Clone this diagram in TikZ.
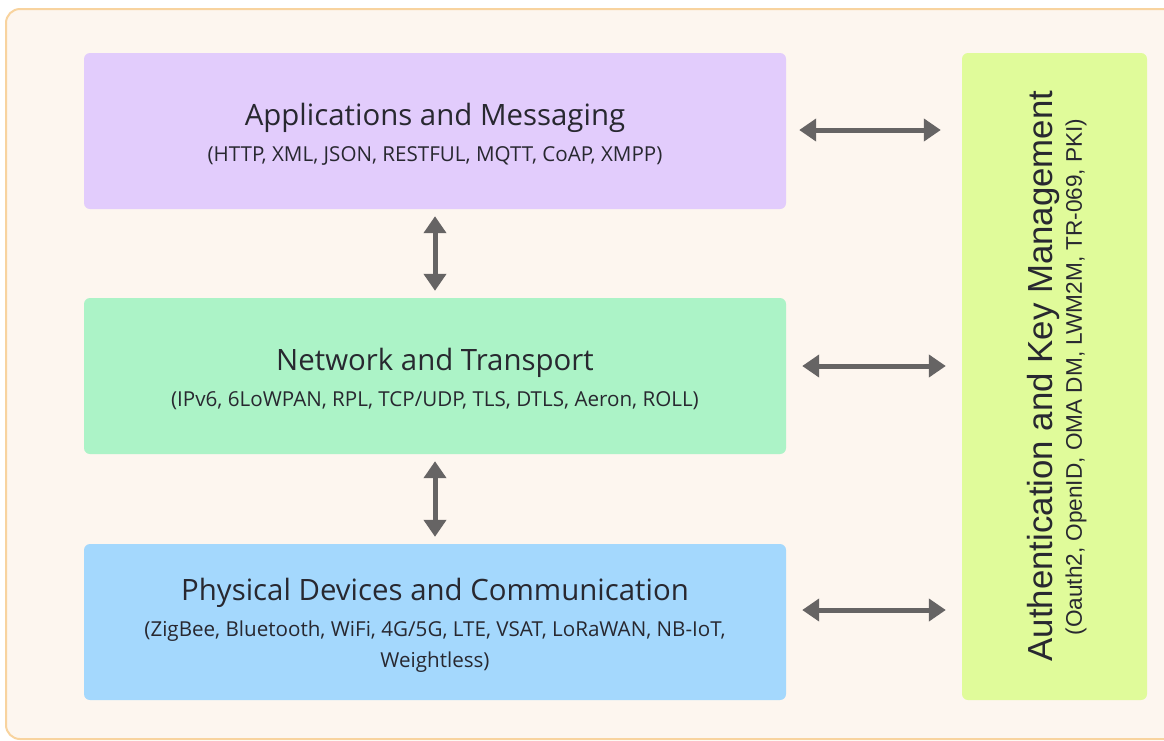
\documentclass[tikz,border=0pt]{standalone}
\usepackage{fontspec}
\setmainfont{Open Sans}
\newfontfamily\arialfont{Liberation Sans}
\usetikzlibrary{arrows.meta}
\definecolor{framefill}{RGB}{253,246,239}
\definecolor{framedraw}{RGB}{248,211,158}
\definecolor{appfill}{RGB}{226,204,252}
\definecolor{netfill}{RGB}{172,243,199}
\definecolor{phyfill}{RGB}{164,216,253}
\definecolor{authfill}{RGB}{224,251,154}
\definecolor{txt}{RGB}{40,40,48}
\definecolor{arrowgray}{RGB}{102,100,100}
\tikzset{
  layer/.style={draw=none, rounded corners=6pt, minimum width=702pt, minimum height=156pt, inner sep=0pt},
  arr/.style={draw=arrowgray, line width=5pt, {Triangle[width=22pt,length=17pt]}-{Triangle[width=22pt,length=17pt]}},
  ttl/.style={text=txt, font=\fontsize{29.4}{34}\selectfont, inner sep=0pt},
  sub/.style={text=txt, font=\fontsize{20.6}{31}\selectfont, inner sep=0pt, align=center},
}
\begin{document}
\begin{tikzpicture}[x=1pt,y=-1pt]
\useasboundingbox (0,0) rectangle (1164,740);
\clip (0,0) rectangle (1164,740);
\fill[framefill, rounded corners=14pt] (1180,9) -- (6,9) -- (6,739) -- (1180,739) -- cycle;
\draw[framedraw, line width=2pt, rounded corners=14pt] (1180,9) -- (6,9) -- (6,739) -- (1180,739);
% layers
\node[layer, fill=appfill] (app) at (435,131) {};
\node[layer, fill=netfill] (net) at (435,376) {};
\node[layer, fill=phyfill] (phy) at (435,622) {};
\node[draw=none, fill=authfill, rounded corners=6pt, minimum width=185pt, minimum height=647pt, inner sep=0pt] (auth) at (1054.5,376.5) {};
% texts
\node[ttl] (appt) at (435,118) {Applications and Messaging};
\node[sub] (apps) at (435,156) {(HTTP, XML, JSON, RESTFUL, MQTT, CoAP, XMPP)};
\node[ttl] (nett) at (435,363) {Network and Transport};
\node[sub] (nets) at (435,401) {(IPv6, 6LoWPAN, RPL, TCP/UDP, TLS, DTLS, Aeron, ROLL)};
\node[ttl] (phyt) at (435,593) {Physical Devices and Communication};
\node[sub] (phys) at (435,647) {(ZigBee, Bluetooth, WiFi, 4G/5G, LTE, VSAT, LoRaWAN, NB-IoT,\\Weightless)};
\node[text=txt, font=\arialfont\fontsize{34.8}{40}\selectfont, inner sep=0pt, rotate=90] (autht) at (1043,376) {Authentication and Key Management};
\node[text=txt, font=\arialfont\fontsize{22.6}{26}\selectfont, inner sep=0pt, rotate=90] (auths) at (1076,377) {(Oauth2, OpenID, OMA DM, LWM2M, TR-069, PKI)};
% arrows
\draw[arr] ([xshift=13pt]app.east |- 0,130) -- ([xshift=-21pt]auth.west |- 0,130);
\draw[arr] ([xshift=16pt]net.east |- 0,366) -- ([xshift=-16pt]auth.west |- 0,366);
\draw[arr] ([xshift=16pt]phy.east |- 0,610) -- ([xshift=-16pt]auth.west |- 0,610);
\draw[arr] ([yshift=-7pt]app.south) -- ([yshift=7pt]net.north);
\draw[arr] ([yshift=-7pt]net.south) -- ([yshift=7pt]phy.north);
\end{tikzpicture}
\end{document}
